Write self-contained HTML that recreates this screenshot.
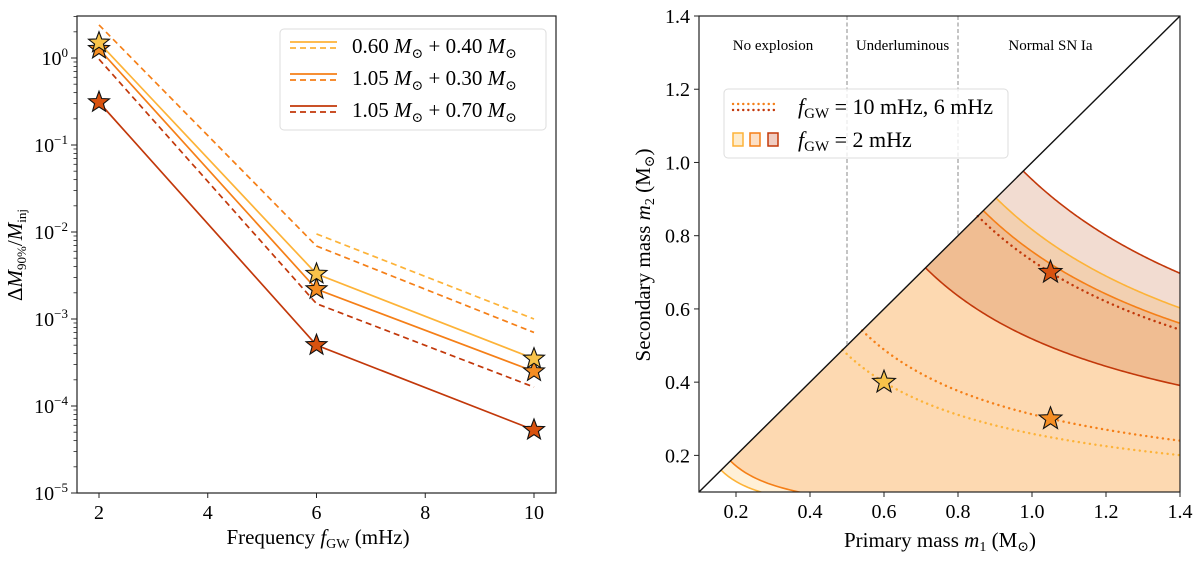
<!DOCTYPE html>
<html><head><meta charset="utf-8">
<style>
html,body{margin:0;padding:0;background:#fff;}
svg, svg text{font-family:"Liberation Serif","DejaVu Serif",serif;}
</style></head>
<body>
<svg id="fig" width="1200" height="560" viewBox="0 0 1200 560" xmlns="http://www.w3.org/2000/svg" font-family="Liberation Serif, DejaVu Serif, serif">
<g id="left"></g>
<g id="right"></g>
</svg>
<script>
// ---------- LEFT CHART DATA ----------
const freqs = [2, 6, 10];
const seriesNames = ["0.60 + 0.40", "1.05 + 0.30", "1.05 + 0.70"];
const solidYellow = [1.5, 3.3e-3, 3.5e-4];
const solidOrange = [1.27, 2.2e-3, 2.5e-4];
const solidRed = [0.31, 5.0e-4, 5.3e-5];
const dashedYellowFreqs = [6, 10];
const dashedYellow = [9.5e-3, 1.0e-3];
const dashedOrange = [2.4, 6.9e-3, 7.0e-4];
const dashedRed = [0.97, 1.5e-3, 1.65e-4];
const xTicksLeft = [2, 4, 6, 8, 10];
const yDecades = [0, -1, -2, -3, -4, -5];
// ---------- RIGHT CHART DATA ----------
const starM1 = [0.6, 1.05, 1.05];
const starM2 = [0.4, 0.3, 0.7];
const bandLoYellow = 0.139, bandHiYellow = 0.786;
const bandLoOrange = 0.161, bandHiOrange = 0.756;
const bandLoRed = 0.620, bandHiRed = 0.850;
const dottedMc = [0.4248, 0.471, 0.743];
const massTicks = [0.2, 0.4, 0.6, 0.8, 1.0, 1.2, 1.4];
const regionBounds = [0.5, 0.8];
const regionLabels = ["No explosion", "Underluminous", "Normal SN Ia"];
const regionLabelX = [0.3, 0.65, 1.05];

const NS = "http://www.w3.org/2000/svg";
const FF = "Liberation Serif, DejaVu Serif, serif";
const cYel = "#fdb338", cOra = "#f57f17", cRed = "#c2380a";
const fYel = "#f8c34a", fOra = "#f58d22", fRed = "#d8520f";
function mk(tag, attrs, parent){const e=document.createElementNS(NS,tag);if(tag==="text")e.setAttribute("font-family",FF);for(const k in attrs)e.setAttribute(k,attrs[k]);if(parent)parent.appendChild(e);return e;}
function starPath(cx,cy,R){const r=R*0.42;let d="";for(let i=0;i<10;i++){const a=-Math.PI/2+i*Math.PI/5;const rr=i%2?r:R;d+=(i?"L":"M")+(cx+rr*Math.cos(a)).toFixed(2)+","+(cy+rr*Math.sin(a)).toFixed(2);}return d+"Z";}

// ---------- LEFT ----------
const L = document.getElementById("left");
const lx0=77, lx1=556, ly0=16, ly1=493;
const xL = f => 99 + (f-2)*(534-99)/8;
const yL = v => 58 - Math.log10(v)*87;
mk("clipPath",{id:"clipL"},L).appendChild(mk("rect",{x:lx0,y:ly0,width:lx1-lx0,height:ly1-ly0}));
const gl = mk("g",{"clip-path":"url(#clipL)"},L);
function line(xs,ys,color,dash,name){
  const p = mk("polyline",{points:xs.map((f,i)=>xL(f)+","+yL(ys[i])).join(" "),fill:"none",stroke:color,"stroke-width":1.7,"stroke-dasharray":dash||"none"},gl);
  
  
}
line(dashedYellowFreqs,dashedYellow,cYel,"6,4","dashed-line-yellow");
line(freqs,dashedOrange,cOra,"6,4","dashed-line-orange");
line(freqs,dashedRed,cRed,"6,4","dashed-line-red");
line(freqs,solidYellow,cYel,null,"solid-line-yellow");
line(freqs,solidOrange,cOra,null,"solid-line-orange");
line(freqs,solidRed,cRed,null,"solid-line-red");
[[solidRed,fRed,"red"],[solidOrange,fOra,"orange"],[solidYellow,fYel,"yellow"]].forEach(([arr,col,n])=>{
  arr.forEach((v,i)=>{const s=mk("path",{d:starPath(xL(freqs[i]),yL(v),11),fill:col,stroke:"#111","stroke-width":1.1},L);
    
    });
});
mk("rect",{x:lx0,y:ly0,width:lx1-lx0,height:ly1-ly0,fill:"none",stroke:"#222","stroke-width":1.2,},L);
xTicksLeft.forEach(t=>{
  mk("line",{x1:xL(t),x2:xL(t),y1:ly1,y2:ly1+5,stroke:"#222","stroke-width":1},L);
  const tx=mk("text",{x:xL(t),y:ly1+26,"text-anchor":"middle","font-size":20},L);tx.textContent=t;
  
  
});
yDecades.forEach(d=>{
  const y=yL(Math.pow(10,d));
  mk("line",{x1:lx0-6,x2:lx0,y1:y,y2:y,stroke:"#222","stroke-width":1},L);
  const tx=mk("text",{x:lx0-9,y:y+7,"text-anchor":"end","font-size":20},L);
  tx.innerHTML='10<tspan dy="-8" font-size="13">'+(d<0?'\u2212'+(-d):d)+'</tspan>';
  
  
});
for(let d=-5;d<=0;d++){for(let k=2;k<=9;k++){const v=k*Math.pow(10,d);const y=yL(v);if(y<ly0)continue;
  mk("line",{x1:lx0-3.5,x2:lx0,y1:y,y2:y,stroke:"#222","stroke-width":0.8},L);}}
// legend
mk("rect",{x:280,y:29,width:266,height:101,rx:4,fill:"#fff","fill-opacity":0.85,stroke:"#ddd","stroke-width":1,},L);
[[cYel,"0.60","0.40",46],[cOra,"1.05","0.30",78],[cRed,"1.05","0.70",110]].forEach(([c,a,b,y],i)=>{
  mk("line",{x1:290,x2:337,y1:y-4,y2:y-4,stroke:c,"stroke-width":1.8},L);
  mk("line",{x1:290,x2:337,y1:y+2,y2:y+2,stroke:c,"stroke-width":1.8,"stroke-dasharray":"6,4"},L);
  const t=mk("text",{x:352,y:y+7,"font-size":21},L);
  t.innerHTML=a+' <tspan font-style="italic">M</tspan><tspan font-size="14" dy="5">\u2299</tspan><tspan dy="-5"> + '+b+' </tspan><tspan font-style="italic">M</tspan><tspan font-size="14" dy="5">\u2299</tspan>';
  
  
});
const xlabL=mk("text",{x:318,y:544,"text-anchor":"middle","font-size":21,},L);
xlabL.innerHTML='Frequency <tspan font-style="italic">f</tspan><tspan font-size="14" dy="4">GW</tspan><tspan dy="-4"> (mHz)</tspan>';
const ylabL=mk("text",{x:0,y:0,"text-anchor":"middle","font-size":21,transform:"translate(22,255) rotate(-90)",},L);
ylabL.innerHTML='\u0394<tspan font-style="italic">M</tspan><tspan font-size="13" dy="4">90%</tspan><tspan dy="-4">/</tspan><tspan font-style="italic">M</tspan><tspan font-size="13" dy="4">inj</tspan>';

// ---------- RIGHT ----------
const R = document.getElementById("right");
const rx0=699, rx1=1180, ry0=16, ry1=492;
const xR = m => rx0 + (m-0.1)*(rx1-rx0)/1.3;
const yR = m => ry1 - (m-0.1)*(ry1-ry0)/1.3;
mk("clipPath",{id:"clipR"},R).appendChild(mk("rect",{x:rx0,y:ry0,width:rx1-rx0,height:ry1-ry0}));
const gr = mk("g",{"clip-path":"url(#clipR)"},R);
function m2of(mc,m1){let lo=0,hi=m1;for(let i=0;i<50;i++){const m=(lo+hi)/2;const c=Math.pow(m1*m,0.6)/Math.pow(m1+m,0.2);if(c<mc)lo=m;else hi=m;}return (lo+hi)/2;}
function curvePts(mc){const start=mc*Math.pow(2,0.2);const pts=[];const N=120;for(let i=0;i<=N;i++){const m1=start+(1.4-start)*i/N;pts.push([m1,m2of(mc,m1)]);}return pts;}
function band(lo,hi,color,name){
  const up=curvePts(hi), dn=curvePts(lo).reverse();
  const pts=up.concat(dn);
  const p=mk("polygon",{points:pts.map(q=>xR(q[0])+","+yR(q[1])).join(" "),fill:color,"fill-opacity":0.2,stroke:"none"},gr);
  
  
}
band(bandLoYellow,bandHiYellow,cYel,"band-yellow");
band(bandLoOrange,bandHiOrange,cOra,"band-orange");
band(bandLoRed,bandHiRed,"#c0501a","band-red");
function curve(mc,color,dash,name,w){
  const p=mk("polyline",{points:curvePts(mc).map(q=>xR(q[0])+","+yR(q[1])).join(" "),fill:"none",stroke:color,"stroke-width":w||1.6,"stroke-dasharray":dash||"none","stroke-linecap":dash?"round":"butt"},gr);
  
  
}
[[bandLoYellow,cYel,"yellow-lower"],[bandHiYellow,cYel,"yellow-upper"],[bandLoOrange,cOra,"orange-lower"],[bandHiOrange,cOra,"orange-upper"],[bandLoRed,cRed,"red-lower"],[bandHiRed,cRed,"red-upper"]].forEach(([mc,c,n])=>curve(mc,c,null,"contour-"+n));
[[dottedMc[0],cYel],[dottedMc[1],cOra],[dottedMc[2],cRed]].forEach(([mc,c],i)=>curve(mc,c,"0.1,5.5","dotted-contour-"+(i+1),2.4));
mk("line",{x1:xR(0.1),y1:yR(0.1),x2:xR(1.4),y2:yR(1.4),stroke:"#111","stroke-width":1.4,},R);
regionBounds.forEach(b=>mk("line",{x1:xR(b),x2:xR(b),y1:ry0,y2:yR(b),stroke:"#888","stroke-width":1,"stroke-dasharray":"4,2.5",},R));
regionLabels.forEach((s,i)=>{const t=mk("text",{x:xR(regionLabelX[i]),y:50,"text-anchor":"middle","font-size":15},R);t.textContent=s;
  
  });
const starCols=[fYel,fOra,fRed];
starM1.forEach((m,i)=>{const s=mk("path",{d:starPath(xR(m),yR(starM2[i]),12),fill:starCols[i],stroke:"#111","stroke-width":1.1},R);
  
  });
mk("rect",{x:rx0,y:ry0,width:rx1-rx0,height:ry1-ry0,fill:"none",stroke:"#222","stroke-width":1.2,},R);
massTicks.forEach(t=>{
  mk("line",{x1:xR(t),x2:xR(t),y1:ry1,y2:ry1+5,stroke:"#222"},R);
  const a=mk("text",{x:xR(t),y:ry1+26,"text-anchor":"middle","font-size":20},R);a.textContent=t.toFixed(1);
  
  
  mk("line",{x1:rx0-5,x2:rx0,y1:yR(t),y2:yR(t),stroke:"#222"},R);
  const b=mk("text",{x:rx0-9,y:yR(t)+7,"text-anchor":"end","font-size":20},R);b.textContent=t.toFixed(1);
  
  
});
mk("rect",{x:724,y:89,width:284,height:69,rx:4,fill:"#fff","fill-opacity":0.8,stroke:"#ddd",},R);
mk("line",{x1:733,x2:777,y1:104,y2:104,stroke:cOra,"stroke-width":2.4,"stroke-dasharray":"0.1,5","stroke-linecap":"round"},R);
mk("line",{x1:733,x2:777,y1:110,y2:110,stroke:cRed,"stroke-width":2.4,"stroke-dasharray":"0.1,5","stroke-linecap":"round"},R);
[[733,cYel],[750,cOra],[768,cRed]].forEach(([x,c])=>mk("rect",{x:x,y:133,width:10,height:13,fill:c,"fill-opacity":0.25,stroke:c,"stroke-width":1.5},R));
const lg1=mk("text",{x:798,y:114,"font-size":22,},R);
lg1.innerHTML='<tspan font-style="italic">f</tspan><tspan font-size="15" dy="4">GW</tspan><tspan dy="-4"> = 10 mHz, 6 mHz</tspan>';
const lg2=mk("text",{x:798,y:147,"font-size":22,},R);
lg2.innerHTML='<tspan font-style="italic">f</tspan><tspan font-size="15" dy="4">GW</tspan><tspan dy="-4"> = 2 mHz</tspan>';
const xlabR=mk("text",{x:940,y:547,"text-anchor":"middle","font-size":21,},R);
xlabR.innerHTML='Primary mass <tspan font-style="italic">m</tspan><tspan font-size="14" dy="4">1</tspan><tspan dy="-4"> (M</tspan><tspan font-size="14" dy="4">\u2299</tspan><tspan dy="-4">)</tspan>';
const ylabR=mk("text",{x:0,y:0,"text-anchor":"middle","font-size":21,transform:"translate(650,255) rotate(-90)",},R);
ylabR.innerHTML='Secondary mass <tspan font-style="italic">m</tspan><tspan font-size="14" dy="4">2</tspan><tspan dy="-4"> (M</tspan><tspan font-size="14" dy="4">\u2299</tspan><tspan dy="-4">)</tspan>';
</script>
</body></html>
